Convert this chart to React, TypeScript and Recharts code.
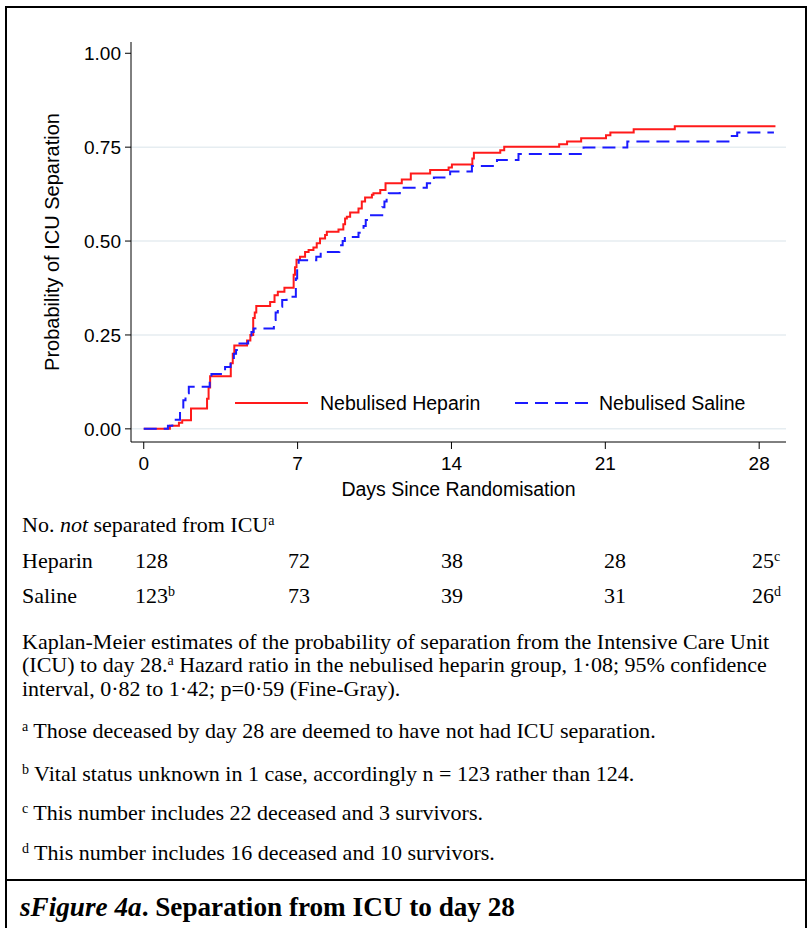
import React from "react";
import {
  CartesianGrid,
  Label,
  Line,
  LineChart,
  XAxis,
  YAxis,
} from "recharts";

// Kaplan-Meier step values (day, cumulative probability)
const heparinDays = [
  0, 1.19, 1.6, 1.75, 2.15, 2.88, 2.95, 3.02, 3.96, 4.05, 4.12, 4.7, 4.85,
  4.98, 5.05, 5.12, 5.75, 5.95, 6.1, 6.4, 6.82, 6.88, 6.95, 7.11, 7.34, 7.5,
  7.72, 7.87, 8.02, 8.25, 8.33, 8.86, 9.08, 9.16, 9.24, 9.39, 9.77, 9.92,
  10.07, 10.38, 10.45, 10.76, 11.0, 11.74, 12.15, 13.03, 13.87, 14.02, 14.95,
  15.02, 16.22, 16.4, 18.9, 19.26, 19.9, 21.03, 21.23, 22.29, 24.16, 28.74,
];
const heparinProb = [
  0, 0.008, 0.016, 0.023, 0.054, 0.08, 0.11, 0.14, 0.175, 0.2, 0.222, 0.235,
  0.25, 0.295, 0.31, 0.327, 0.338, 0.356, 0.365, 0.376, 0.41, 0.43, 0.45,
  0.458, 0.471, 0.476, 0.483, 0.494, 0.507, 0.516, 0.525, 0.531, 0.545, 0.56,
  0.565, 0.576, 0.587, 0.605, 0.616, 0.623, 0.627, 0.636, 0.654, 0.664, 0.68,
  0.689, 0.696, 0.704, 0.72, 0.735, 0.742, 0.751, 0.758, 0.765, 0.774, 0.782,
  0.789, 0.798, 0.806, 0.806,
];

const salineDays = [
  0, 1.1, 1.3, 1.65, 1.8, 1.9, 2.05, 3.0, 3.08, 3.7, 3.95, 4.1, 4.2, 4.3,
  4.75, 4.9, 5.0, 5.92, 6.0, 6.1, 6.3, 6.5, 6.92, 6.98, 7.05, 7.85, 8.05, 8.9,
  9.05, 9.15, 9.77, 10.0, 10.1, 10.2, 10.85, 10.95, 11.05, 11.15, 11.65, 12.88,
  13.2, 13.94, 14.93, 16.07, 17.05, 20.01, 22.0, 26.7, 27.0, 28.67,
];
const salineProb = [
  0, 0.008, 0.024, 0.05, 0.076, 0.095, 0.112, 0.13, 0.146, 0.165, 0.183, 0.2,
  0.21, 0.227, 0.245, 0.258, 0.267, 0.29, 0.31, 0.325, 0.343, 0.352, 0.4,
  0.43, 0.449, 0.458, 0.471, 0.489, 0.5, 0.511, 0.522, 0.54, 0.556, 0.569,
  0.59, 0.605, 0.614, 0.627, 0.642, 0.654, 0.669, 0.685, 0.7, 0.716, 0.732,
  0.749, 0.765, 0.78, 0.789, 0.789,
];

const xTicks = [0, 7, 14, 21, 28];
const yTicks = [0, 0.25, 0.5, 0.75, 1];

// numbers at risk
const riskHeparin = ["128", "72", "38", "28", "25"];
const riskSaline = ["123", "73", "39", "31", "26"];
const riskHeparinSup = ["", "", "", "", "c"];
const riskSalineSup = ["b", "", "", "", "d"];
const riskCols = [135, 288, 441, 604, 752];

const heparinData = heparinDays.map((d, i) => ({ day: d, p: heparinProb[i] }));
const salineData = salineDays.map((d, i) => ({ day: d, p: salineProb[i] }));

const RED = "#ff1a1a";
const BLUE = "#1a1aff";
const sans = "'Liberation Sans', Arial, sans-serif";
const serif = "'Liberation Serif', 'Times New Roman', serif";
const SANS_SIZE = 19;

function KMLegend() {
  const txt: React.CSSProperties = {
    position: "absolute",
    top: 0,
    fontFamily: sans,
    fontSize: 19.5,
    lineHeight: "22px",
    color: "#000",
    whiteSpace: "nowrap",
  };
  return (
    <div style={{ position: "absolute", left: 235, top: 392, width: 530, height: 22 }}>
      <svg width={75} height={22} style={{ position: "absolute", left: 0 }}>
        <line x1={0} x2={73} y1={11} y2={11} stroke={RED} strokeWidth={2} />
      </svg>
      <span style={{ ...txt, left: 85 }}>Nebulised Heparin</span>
      <svg width={75} height={22} style={{ position: "absolute", left: 280 }}>
        <line
          x1={0}
          x2={73}
          y1={11}
          y2={11}
          stroke={BLUE}
          strokeWidth={2}
          strokeDasharray="13 7"
        />
      </svg>
      <span style={{ ...txt, left: 364 }}>Nebulised Saline</span>
    </div>
  );
}

const line = (top: number): React.CSSProperties => ({
  position: "absolute",
  left: 22,
  top,
  fontFamily: serif,
  fontSize: 22,
  lineHeight: "24px",
  whiteSpace: "nowrap",
  color: "#000",
});

const sup: React.CSSProperties = {
  fontSize: 14,
  verticalAlign: "top",
  lineHeight: "16px",
};

function RiskRow({
  top,
  name,
  vals,
  sups,
}: {
  top: number;
  name: string;
  vals: string[];
  sups: string[];
}) {
  return (
    <>
      <div style={line(top)}>{name}</div>
      {vals.map((v, i) => (
        <div key={i} style={{ ...line(top), left: riskCols[i] }}>
          {v}
          {sups[i] ? <span style={sup}>{sups[i]}</span> : null}
        </div>
      ))}
    </>
  );
}

export default function App() {
  return (
    <div
      style={{
        position: "absolute",
        left: 0,
        top: 0,
        width: 809,
        height: 928,
        background: "#fff",
        overflow: "hidden",
      }}
    >
      <div
        style={{
          position: "absolute",
          left: 5,
          top: 6,
          width: 798,
          height: 940,
          border: "2px solid #000",
        }}
      />
      <div
        style={{
          position: "absolute",
          left: 5,
          top: 879,
          width: 802,
          height: 2,
          background: "#000",
        }}
      />

      <div style={{ position: "absolute", left: 0, top: 0 }}>
        <LineChart
          width={809}
          height={510}
          margin={{ top: 42, right: 23, left: 51, bottom: 8 }}
        >
          <CartesianGrid
            vertical={false}
            stroke="#e6edf1"
            strokeWidth={1.5}
            horizontalValues={[0, 0.25, 0.5, 0.75]}
          />
          <XAxis
            type="number"
            dataKey="day"
            domain={[-0.58, 29.22]}
            ticks={xTicks}
            allowDataOverflow
            height={60}
            tickSize={7}
            tickMargin={8}
            stroke="#000"
            tick={{ fill: "#000", fontSize: SANS_SIZE, fontFamily: sans }}
          >
            <Label
              value="Days Since Randomisation"
              position="insideBottom"
              offset={6}
              style={{ fill: "#000", fontSize: 19.5, fontFamily: sans }}
            />
          </XAxis>
          <YAxis
            type="number"
            domain={[-0.035, 1.03]}
            ticks={yTicks}
            allowDataOverflow
            width={80}
            tickSize={6}
            tickMargin={4}
            stroke="#000"
            tickFormatter={(v: number) => v.toFixed(2)}
            tick={{ fill: "#000", fontSize: SANS_SIZE, fontFamily: sans }}
          >
            <Label
              value="Probability of ICU Separation"
              angle={-90}
              position="insideLeft"
              offset={1}
              style={{
                fill: "#000",
                fontSize: 20,
                fontFamily: sans,
                textAnchor: "middle",
              }}
            />
          </YAxis>
          <Line
            data={heparinData}
            dataKey="p"
            type="stepAfter"
            stroke={RED}
            strokeWidth={2}
            dot={false}
            isAnimationActive={false}
          />
          <Line
            data={salineData}
            dataKey="p"
            type="stepAfter"
            stroke={BLUE}
            strokeWidth={2}
            strokeDasharray="13 7"
            dot={false}
            isAnimationActive={false}
          />
        </LineChart>
      </div>
      <KMLegend />

      <div style={line(513)}>
        No. <i>not</i> separated from ICU<span style={sup}>a</span>
      </div>
      <RiskRow top={549} name="Heparin" vals={riskHeparin} sups={riskHeparinSup} />
      <RiskRow top={584} name="Saline" vals={riskSaline} sups={riskSalineSup} />

      <div style={line(630)}>
        Kaplan-Meier estimates of the probability of separation from the
        Intensive Care Unit
      </div>
      <div style={line(653)}>
        (ICU) to day 28.<span style={sup}>a</span> Hazard ratio in the
        nebulised heparin group, 1·08; 95% confidence
      </div>
      <div style={line(677)}>interval, 0·82 to 1·42; p=0·59 (Fine-Gray).</div>

      <div style={line(719)}>
        <span style={sup}>a</span> Those deceased by day 28 are deemed to have
        not had ICU separation.
      </div>
      <div style={line(762)}>
        <span style={sup}>b</span> Vital status unknown in 1 case, accordingly
        n = 123 rather than 124.
      </div>
      <div style={line(801)}>
        <span style={sup}>c</span> This number includes 22 deceased and 3
        survivors.
      </div>
      <div style={line(841)}>
        <span style={sup}>d</span> This number includes 16 deceased and 10
        survivors.
      </div>

      <div
        style={{
          position: "absolute",
          left: 20,
          top: 892,
          fontFamily: serif,
          fontSize: 27.2,
          lineHeight: "30px",
          fontWeight: "bold",
          whiteSpace: "nowrap",
        }}
      >
        <i>sFigure 4a</i>. Separation from ICU to day 28
      </div>
    </div>
  );
}
